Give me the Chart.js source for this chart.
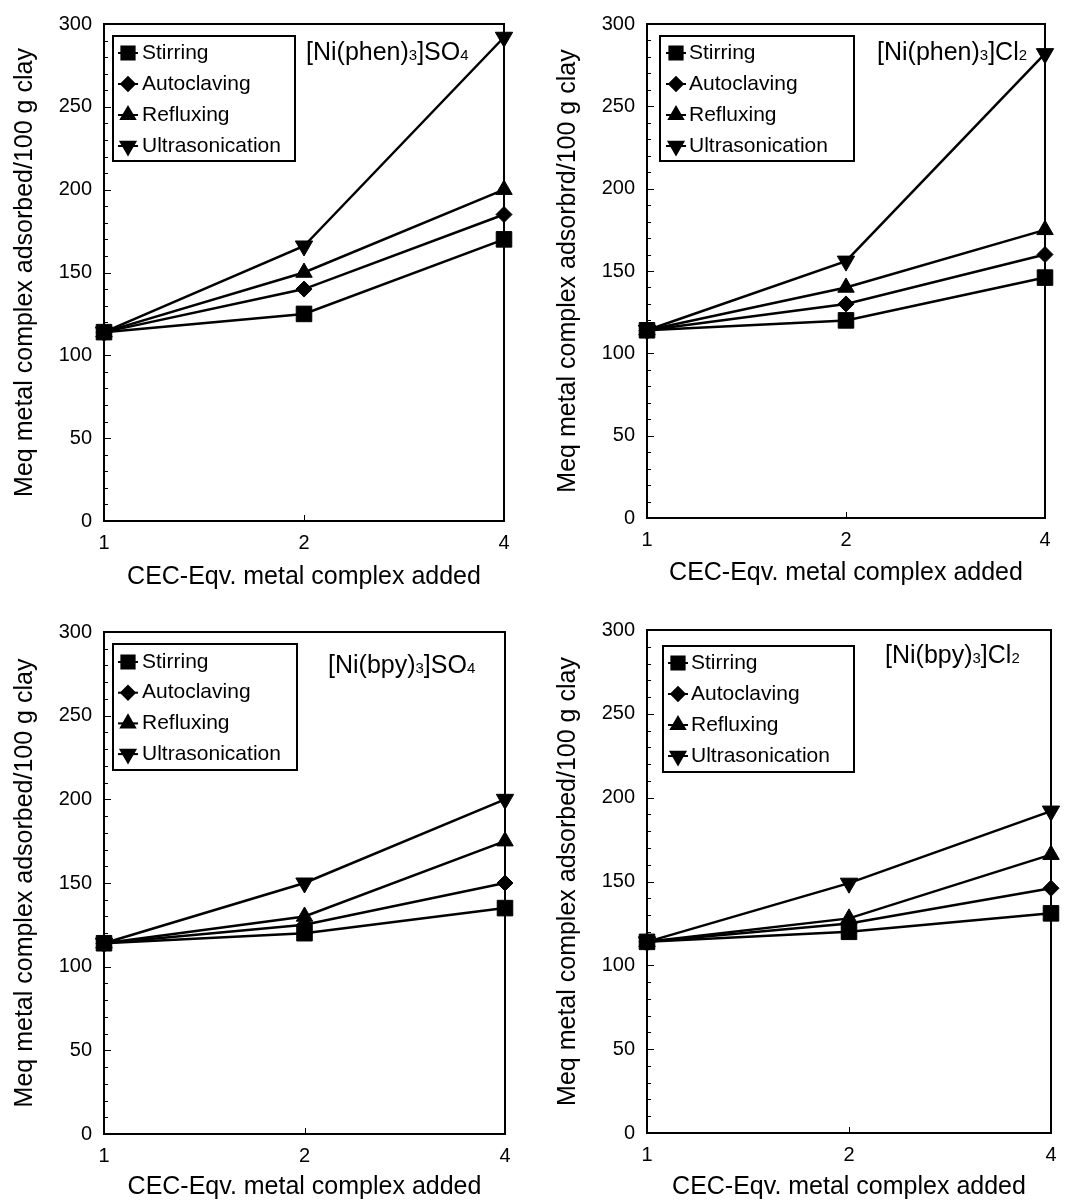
<!DOCTYPE html>
<html>
<head>
<meta charset="utf-8">
<script src="https://cdn.jsdelivr.net/npm/chart.js@4.4.1/dist/chart.umd.min.js"></script>
<style>
  body { margin: 0; background: #fff; }
  #wrap { position: relative; width: 1068px; height: 1202px; }
  canvas { position: absolute; }
</style>
</head>
<body>
<div id="wrap">
  <canvas id="c1" width="534" height="601" style="left:0;top:0"></canvas>
  <canvas id="c2" width="534" height="601" style="left:534px;top:0"></canvas>
  <canvas id="c3" width="534" height="601" style="left:0;top:601px"></canvas>
  <canvas id="c4" width="534" height="601" style="left:534px;top:601px"></canvas>
</div>
<script>
// Datos
const xLabels = ['1', '2', '4'];
const methods = ['Stirring', 'Autoclaving', 'Refluxing', 'Ultrasonication'];

const phenSO4Stirring = [114, 125, 170];
const phenSO4Autoclaving = [114, 140, 185];
const phenSO4Refluxing = [114, 150, 200];
const phenSO4Ultrasonication = [114, 166, 292];

const phenCl2Stirring = [114, 120, 146];
const phenCl2Autoclaving = [114, 130, 160];
const phenCl2Refluxing = [114, 140, 175];
const phenCl2Ultrasonication = [114, 156, 282];

const bpySO4Stirring = [114, 120, 135];
const bpySO4Autoclaving = [114, 125, 150];
const bpySO4Refluxing = [114, 130, 175];
const bpySO4Ultrasonication = [114, 150, 200];

const bpyCl2Stirring = [114, 120, 131];
const bpyCl2Autoclaving = [114, 125, 146];
const bpyCl2Refluxing = [114, 128, 166];
const bpyCl2Ultrasonication = [114, 149, 192];

const yTicks = [0, 50, 100, 150, 200, 250, 300];

// Estilo de marcadores
const markerStyles = ['rect', 'rectRot', 'triangle', 'triangle'];
const markerRotation = [0, 0, 0, 180];
const markerRadius = [11, 8, 9.5, 10];

const FONT = '"Liberation Sans", Arial, sans-serif';
const xTitle = 'CEC-Eqv. metal complex added';

// Plugin: marco, ticks internos, leyenda con caja y etiqueta del compuesto
const framePlugin = {
  id: 'frame',
  afterDraw(chart, args, opts) {
    const { ctx, chartArea: a, scales } = chart;
    ctx.save();
    ctx.strokeStyle = '#000';
    ctx.fillStyle = '#000';
    ctx.lineWidth = 2;
    ctx.strokeRect(a.left, a.top, a.right - a.left, a.bottom - a.top);

    // ticks hacia dentro
    ctx.lineWidth = 1;
    ctx.beginPath();
    for (let v = 0; v <= 300; v += 10) {
      const y = Math.round(scales.y.getPixelForValue(v)) + 0.5;
      const len = v % 50 === 0 ? 7 : 4;
      ctx.moveTo(a.left, y);
      ctx.lineTo(a.left + len, y);
    }
    xLabels.forEach((_, i) => {
      const x = Math.round(scales.x.getPixelForValue(i)) + 0.5;
      ctx.moveTo(x, a.bottom);
      ctx.lineTo(x, a.bottom - 6);
    });
    ctx.stroke();

    // leyenda
    const lg = opts.legend;
    const bx = a.left + lg.dx;
    const by = a.top + lg.dy;
    ctx.lineWidth = 2;
    ctx.strokeRect(bx, by, lg.w, lg.h);
    ctx.font = '21px ' + FONT;
    ctx.textBaseline = 'middle';
    chart.data.datasets.forEach((ds, i) => {
      const y = by + lg.first + i * lg.step;
      const mx = bx + lg.mx;
      ctx.lineWidth = 2;
      ctx.beginPath();
      ctx.moveTo(mx - 10, y);
      ctx.lineTo(mx + 10, y);
      ctx.stroke();
      Chart.helpers.drawPoint(ctx, {
        pointStyle: ds.pointStyle,
        rotation: ds.pointRotation,
        radius: ds.pointRadius * 0.85,
        borderWidth: 1
      }, mx, y);
      ctx.fillText(ds.label, bx + lg.tx, y);
    });

    // nombre del compuesto con subíndices
    const tg = opts.tag;
    let x = a.left + tg.dx;
    const ty = a.top + tg.dy;
    ctx.textBaseline = 'alphabetic';
    tg.parts.forEach(([s, sub]) => {
      ctx.font = (sub ? '15px ' : '25px ') + FONT;
      ctx.fillText(s, x, ty);
      x += ctx.measureText(s).width;
    });
    ctx.restore();
  }
};

function makeChart(id, cfg) {
  const ctx = document.getElementById(id).getContext('2d');
  return new Chart(ctx, {
    type: 'line',
    data: {
      labels: xLabels,
      datasets: cfg.series.map((vals, i) => ({
        label: methods[i],
        data: vals,
        borderColor: '#000',
        backgroundColor: '#000',
        borderWidth: 2.5,
        pointStyle: markerStyles[i],
        pointRotation: markerRotation[i],
        pointRadius: markerRadius[i],
        pointBorderWidth: 1,
        pointBorderColor: '#000',
        pointBackgroundColor: '#000',
        tension: 0,
        clip: false
      }))
    },
    options: {
      responsive: false,
      animation: false,
      layout: { padding: { top: cfg.top, right: cfg.right, left: 0, bottom: 0 } },
      plugins: {
        legend: { display: false },
        tooltip: { enabled: false },
        frame: { legend: cfg.legend, tag: cfg.tag }
      },
      scales: {
        x: {
          type: 'category',
          offset: false,
          grid: { display: false, drawTicks: false },
          border: { display: false },
          ticks: { color: '#000', font: { size: 20, family: FONT }, padding: 10, maxRotation: 0 },
          title: {
            display: true,
            text: xTitle,
            color: '#000',
            font: { size: 25, family: FONT },
            padding: { top: 0, bottom: cfg.xTitlePad }
          },
          afterFit: (s) => { s.height = cfg.xH; }
        },
        y: {
          min: 0,
          max: 300,
          grid: { display: false, drawTicks: false },
          border: { display: false },
          afterBuildTicks: (s) => { s.ticks = yTicks.map((v) => ({ value: v })); },
          ticks: { color: '#000', font: { size: 20, family: FONT }, padding: 12 },
          title: {
            display: true,
            text: cfg.yTitle,
            color: '#000',
            font: { size: 25, family: FONT },
            padding: { top: cfg.yTitlePad, bottom: 0 }
          },
          afterFit: (s) => { s.width = cfg.yW; }
        }
      }
    },
    plugins: [framePlugin]
  });
}

makeChart('c1', {
  series: [phenSO4Stirring, phenSO4Autoclaving, phenSO4Refluxing, phenSO4Ultrasonication],
  yTitle: 'Meq metal complex adsorbed/100 g clay',
  top: 21, right: 30, yW: 104, xH: 80, yTitlePad: 10, xTitlePad: 9,
  legend: { dx: 9, dy: 12, w: 182, h: 125, first: 17, step: 31, mx: 15, tx: 29 },
  tag: { dx: 202, dy: 36, parts: [['[Ni(phen)', false], ['3', true], [']SO', false], ['4', true]] }
});

makeChart('c2', {
  series: [phenCl2Stirring, phenCl2Autoclaving, phenCl2Refluxing, phenCl2Ultrasonication],
  yTitle: 'Meq metal complex adsorbrd/100 g clay',
  top: 19, right: 23, yW: 113, xH: 83, yTitlePad: 19, xTitlePad: 13,
  legend: { dx: 13, dy: 12, w: 194, h: 125, first: 17, step: 31, mx: 16, tx: 29 },
  tag: { dx: 230, dy: 36, parts: [['[Ni(phen)', false], ['3', true], [']Cl', false], ['2', true]] }
});

makeChart('c3', {
  series: [bpySO4Stirring, bpySO4Autoclaving, bpySO4Refluxing, bpySO4Ultrasonication],
  yTitle: 'Meq metal complex adsorbed/100 g clay',
  top: 31, right: 29, yW: 104, xH: 68, yTitlePad: 10, xTitlePad: 0,
  legend: { dx: 9, dy: 12, w: 184, h: 126, first: 18, step: 30.7, mx: 15, tx: 29 },
  tag: { dx: 224, dy: 41, parts: [['[Ni(bpy)', false], ['3', true], [']SO', false], ['4', true]] }
});

makeChart('c4', {
  series: [bpyCl2Stirring, bpyCl2Autoclaving, bpyCl2Refluxing, bpyCl2Ultrasonication],
  yTitle: 'Meq metal complex adsorbed/100 g clay',
  top: 29, right: 17, yW: 113, xH: 69, yTitlePad: 19, xTitlePad: 0,
  legend: { dx: 16, dy: 16, w: 191, h: 126, first: 17, step: 31, mx: 15, tx: 28 },
  tag: { dx: 238, dy: 33, parts: [['[Ni(bpy)', false], ['3', true], [']Cl', false], ['2', true]] }
});
</script>
</body>
</html>
